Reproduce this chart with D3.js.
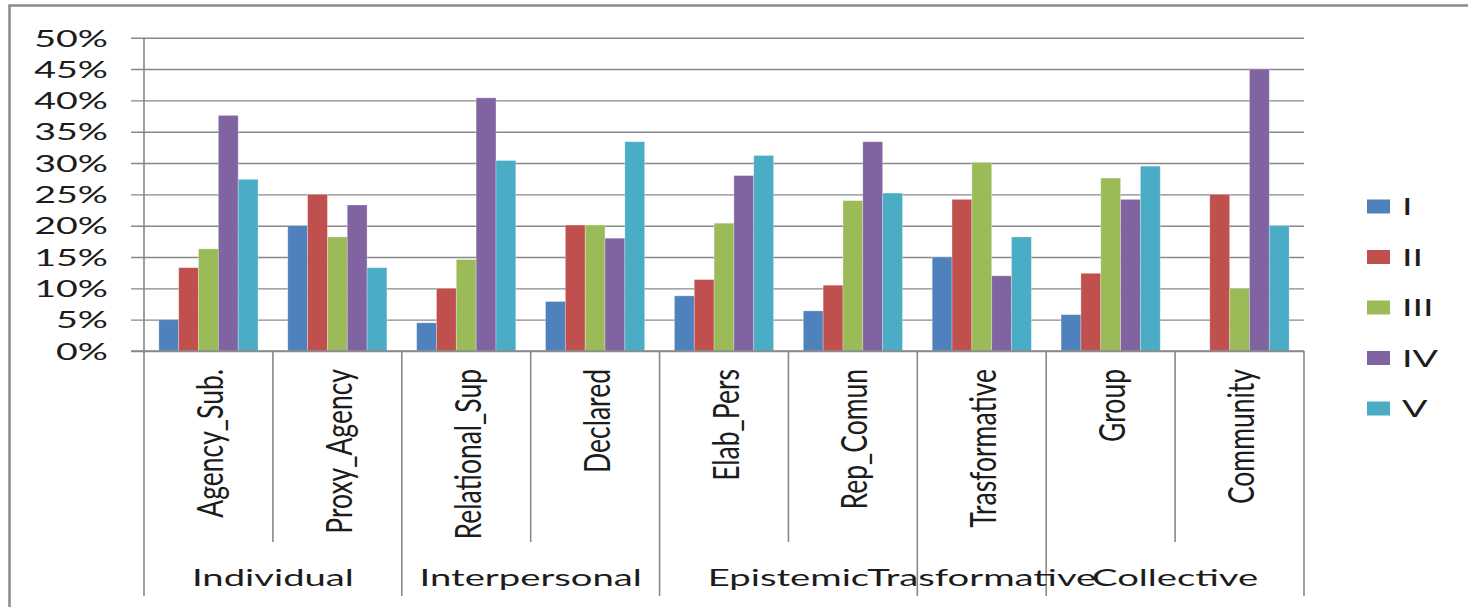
<!DOCTYPE html>
<html><head><meta charset="utf-8">
<script src="https://cdn.jsdelivr.net/npm/d3@7"></script>
<style>
body{margin:0;background:#fff;}
svg{display:block;}
text{font-family:Lato,"Open Sans",sans-serif;fill:#1c1c1c;}
</style>
</head><body>
<svg id="chart" width="1468" height="607"></svg>
<script>
// ---- data ----
const categories = ["Agency_Sub.","Proxy_Agency","Relational_Sup","Declared","Elab_Pers","Rep_Comun","Trasformative","Group","Community"];
const groupNames = ["Individual","Interpersonal","Epistemic","Trasformative","Collective"];
const groupSizes = [2,2,2,1,2];
const seriesNames = ["I","II","III","IV","V"];
const seriesI   = [0.050,0.200,0.045,0.079,0.088,0.064,0.150,0.058,0.000];
const seriesII  = [0.133,0.250,0.100,0.201,0.114,0.105,0.242,0.124,0.250];
const seriesIII = [0.163,0.182,0.146,0.201,0.204,0.240,0.301,0.276,0.100];
const seriesIV  = [0.376,0.233,0.404,0.180,0.280,0.334,0.120,0.242,0.450];
const seriesV   = [0.274,0.133,0.304,0.334,0.312,0.252,0.182,0.295,0.200];
const yTicks = [0,0.05,0.10,0.15,0.20,0.25,0.30,0.35,0.40,0.45,0.50];
const colors = ["#4F81BD","#C0504D","#9BBB59","#8064A2","#4BACC6"];

const seriesValues = [seriesI, seriesII, seriesIII, seriesIV, seriesV];

(function(){
// ---- layout ----
const SX = 1.6;           // horizontal stretch of the original picture's text
const SXG = 1.7;          // stretch for group labels
const SXR = 1.42;         // stretch of rotated labels' glyph height
const pLeft = 144, pRight = 1304, pBase = 351, pTop = 37.7;
const shortBottom = 542, longBottom = 596;
const gridColor = "#888";

const svg = d3.select("#chart");

// outer chart border
svg.append("rect").attr("x",9.5).attr("y",5.5).attr("width",1500).attr("height",700)
  .attr("fill","#fff").attr("stroke","#8a8a8a").attr("stroke-width",2.5);

const x = d3.scaleBand().domain(categories).range([pLeft,pRight]).padding(0);
const xs = d3.scaleBand().domain(seriesNames).range([0,x.bandwidth()]).paddingInner(0).paddingOuter(0.75);
const y = d3.scaleLinear().domain([0,0.5]).range([pBase,pTop]);

// y axis with gridlines
const yAxis = d3.axisLeft(y).tickValues(yTicks).tickFormat(d3.format(".0%"))
  .tickSize(-(pRight-131)).tickPadding(0);
const gy = svg.append("g").attr("transform","translate(131,0)").call(yAxis);
gy.select(".domain").remove();
gy.attr("font-family",null).attr("font-size",null);
gy.selectAll(".tick line").attr("stroke",gridColor).attr("stroke-width",1.4);
gy.selectAll(".tick text")
  .attr("x",0).attr("dy",null)
  .attr("y",8.3)
  .attr("transform","translate(-23,0) scale("+SX+",1)")
  .style("font-size","23.5px").attr("fill","#1c1c1c");

// bars
const cat = svg.append("g").selectAll("g").data(categories).join("g")
  .attr("transform",d=>"translate("+x(d)+",0)");
cat.selectAll("rect").data((c,i)=>seriesNames.map((s,k)=>({s,k,v:seriesValues[k][i]})))
  .join("rect")
  .attr("x",d=>xs(d.s)).attr("width",xs.bandwidth())
  .attr("y",d=>y(d.v)).attr("height",d=>pBase-y(d.v))
  .attr("fill",d=>colors[d.k])
  .attr("stroke","#ffffff").attr("stroke-opacity",0.35).attr("stroke-width",0.8);

// axis lines
svg.append("line").attr("x1",pLeft).attr("x2",pLeft).attr("y1",pTop).attr("y2",longBottom)
  .attr("stroke",gridColor).attr("stroke-width",1.6);
svg.append("line").attr("x1",131).attr("x2",pRight).attr("y1",pBase).attr("y2",pBase)
  .attr("stroke",gridColor).attr("stroke-width",1.6);

// category separators (long at group boundaries)
const groupBounds = [0];
groupSizes.forEach(n=>groupBounds.push(groupBounds[groupBounds.length-1]+n));
const step = x.step();
d3.range(1,categories.length+1).forEach(i=>{
  const xx = pLeft + i*step;
  const isLong = groupBounds.includes(i);
  svg.append("line").attr("x1",xx).attr("x2",xx).attr("y1",pBase).attr("y2",isLong?longBottom:shortBottom)
    .attr("stroke",gridColor).attr("stroke-width",1.6);
});

// rotated category labels
svg.append("g").selectAll("text").data(categories).join("text")
  .attr("transform",d=>"translate("+(x(d)+x.bandwidth()/2+14.5)+",369) rotate(-90) scale(1,"+SXR+")")
  .attr("text-anchor","end")
  .style("font-size","26.5px")
  .text(d=>d);

// group labels
svg.append("g").selectAll("text").data(groupNames).join("text")
  .attr("transform",(d,i)=>{
    const cx = pLeft + step*(groupBounds[i]+groupBounds[i+1])/2;
    return "translate("+cx+",586) scale("+SXG+",1)";
  })
  .attr("text-anchor","middle")
  .style("font-size","22.5px")
  .text(d=>d);

// legend
const lg = svg.append("g").selectAll("g").data(seriesNames).join("g")
  .attr("transform",(d,i)=>"translate(1367,"+(206.5+i*50.5)+")");
lg.append("rect").attr("x",0).attr("y",-7).attr("width",23).attr("height",14)
  .attr("fill",(d,i)=>colors[i]);
lg.append("text").attr("transform","translate(35,8.5) scale("+SX+",1)")
  .style("font-size","23.5px").text(d=>d);
})();
</script>
</body></html>
